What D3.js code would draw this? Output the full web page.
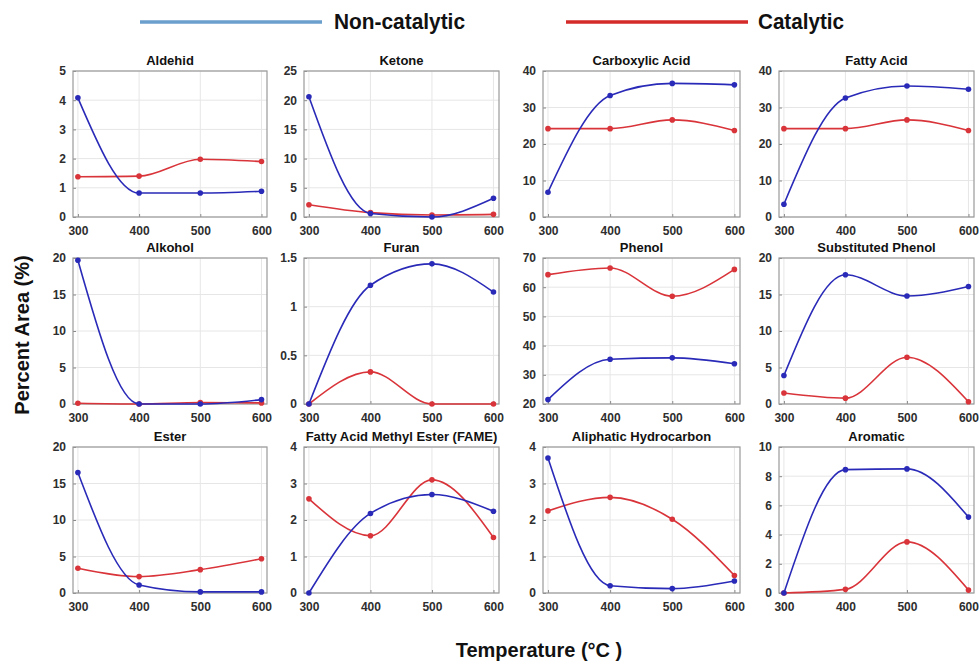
<!DOCTYPE html>
<html>
<head>
<meta charset="UTF-8" />
<title>Percent Area vs Temperature</title>
<script src="https://cdn.jsdelivr.net/npm/d3@7"></script>
<style>
  body { margin: 0; background: #fff; }
  svg { display: block; font-family: Arial, "Liberation Sans", sans-serif; }
</style>
</head>
<body>
<svg id="chart" width="979" height="662"></svg>
<script>
// temperatures (°C)
var temps = [300, 400, 500, 600]

var titles = ["Aldehid", "Ketone", "Carboxylic Acid", "Fatty Acid",
              "Alkohol", "Furan", "Phenol", "Substituted Phenol",
              "Ester", "Fatty Acid Methyl Ester (FAME)", "Aliphatic Hydrocarbon", "Aromatic"]

// non-catalytic (blue), per panel
var nonCatalytic = [
  [4.08, 0.82, 0.82, 0.88],
  [20.6, 0.6, 0.0, 3.2],
  [6.8, 33.3, 36.6, 36.2],
  [3.5, 32.6, 35.9, 35.0],
  [19.7, 0.0, 0.0, 0.6],
  [0.0, 1.22, 1.44, 1.15],
  [21.5, 35.3, 35.8, 33.8],
  [3.9, 17.7, 14.8, 16.1],
  [16.5, 1.1, 0.15, 0.15],
  [0.0, 2.18, 2.7, 2.24],
  [3.7, 0.2, 0.12, 0.33],
  [0.0, 8.45, 8.5, 5.2]
]

// catalytic (red), per panel
var catalytic = [
  [1.38, 1.40, 1.98, 1.90],
  [2.1, 0.75, 0.35, 0.45],
  [24.2, 24.2, 26.6, 23.7],
  [24.2, 24.2, 26.6, 23.7],
  [0.1, 0.0, 0.2, 0.15],
  [0.0, 0.33, 0.0, 0.0],
  [64.3, 66.6, 56.9, 66.1],
  [1.5, 0.8, 6.4, 0.3],
  [3.4, 2.25, 3.2, 4.7],
  [2.58, 1.57, 3.1, 1.52],
  [2.25, 2.62, 2.02, 0.48],
  [0.0, 0.25, 3.5, 0.2]
]

// y tick values per panel
var yTicks = [
  [0, 1, 2, 3, 4, 5],
  [0, 5, 10, 15, 20, 25],
  [0, 10, 20, 30, 40],
  [0, 10, 20, 30, 40],
  [0, 5, 10, 15, 20],
  [0, 0.5, 1, 1.5],
  [20, 30, 40, 50, 60, 70],
  [0, 5, 10, 15, 20],
  [0, 5, 10, 15, 20],
  [0, 1, 2, 3, 4],
  [0, 1, 2, 3, 4],
  [0, 2, 4, 6, 8, 10]
]

var legendLabels = ["Non-catalytic", "Catalytic"]

// layout
var colLeft = [73, 304, 543, 779]
var colWidth = [194, 195, 197, 195]
var rowTop = [71, 258, 447]
var boxH = 146

var blue = "#2a2ab8", red = "#d9343a"
var svg = d3.select("#chart")

// legend
var legendX = [[140, 322, 334], [566, 748, 758]]
var legendColor = ["#6b9fcc", "#d42a2a"]
legendLabels.forEach(function (lab, i) {
  svg.append("line")
    .attr("x1", legendX[i][0]).attr("x2", legendX[i][1])
    .attr("y1", 22).attr("y2", 22)
    .attr("stroke", legendColor[i]).attr("stroke-width", 3.5)
  svg.append("text")
    .attr("x", legendX[i][2]).attr("y", 29)
    .attr("font-size", 22).attr("font-weight", "bold")
    .attr("textLength", i == 0 ? 131 : 86).attr("lengthAdjust", "spacingAndGlyphs")
    .attr("fill", "#111")
    .text(lab)
})

titles.forEach(function (title, k) {
  var c = k % 4, r = Math.floor(k / 4)
  var x0 = colLeft[c], w = colWidth[c], y0 = rowTop[r]
  var yt = yTicks[k]

  var x = d3.scaleLinear().domain([292, 609]).range([x0, x0 + w])
  var y = d3.scaleLinear().domain([yt[0], yt[yt.length - 1]]).range([y0 + boxH, y0])

  var g = svg.append("g")

  // grid
  g.selectAll("line.vg").data(temps).enter().append("line")
    .attr("x1", d => x(d)).attr("x2", d => x(d))
    .attr("y1", y0).attr("y2", y0 + boxH)
    .attr("stroke", "#e6e6e6").attr("stroke-width", 1)
  g.selectAll("line.hg").data(yt).enter().append("line")
    .attr("x1", x0).attr("x2", x0 + w)
    .attr("y1", d => y(d)).attr("y2", d => y(d))
    .attr("stroke", "#e6e6e6").attr("stroke-width", 1)

  // axes (ticks inside)
  var xAxis = d3.axisBottom(x).tickValues(temps).tickSizeInner(-3).tickSizeOuter(0).tickPadding(9)
  var gx = g.append("g").attr("transform", "translate(0," + (y0 + boxH) + ")").call(xAxis)
  var yAxis = d3.axisLeft(y).tickValues(yt).tickSizeInner(-3).tickSizeOuter(0).tickPadding(7)
    .tickFormat(d3.format("~g"))
  var gy = g.append("g").attr("transform", "translate(" + x0 + ",0)").call(yAxis)
  ;[gx, gy].forEach(function (a) {
    a.select(".domain").remove()
    a.selectAll(".tick line").attr("stroke", "#8a8a8a")
    a.selectAll(".tick text").attr("font-size", 12).attr("font-weight", "bold")
      .attr("fill", "#2e2e2e").attr("font-family", "Arial, 'Liberation Sans', sans-serif")
  })

  // box
  g.append("rect")
    .attr("x", x0).attr("y", y0).attr("width", w).attr("height", boxH)
    .attr("fill", "none").attr("stroke", "#9a9a9a").attr("stroke-width", 1.2)

  // title
  g.append("text")
    .attr("x", x0 + w / 2).attr("y", y0 - 6)
    .attr("text-anchor", "middle").attr("font-size", 13).attr("font-weight", "bold")
    .attr("fill", "#111").text(title)

  var line = d3.line().x((d, i) => x(temps[i])).y(d => y(d)).curve(d3.curveMonotoneX)

  ;[[catalytic[k], red], [nonCatalytic[k], blue]].forEach(function (s) {
    g.append("path").attr("d", line(s[0]))
      .attr("fill", "none").attr("stroke", s[1]).attr("stroke-width", 1.6)
    g.selectAll(null).data(s[0]).enter().append("circle")
      .attr("cx", (d, i) => x(temps[i])).attr("cy", d => y(d))
      .attr("r", 2.8).attr("fill", s[1])
  })
})

// axis titles
svg.append("text")
  .attr("transform", "translate(29,335) rotate(-90)")
  .attr("text-anchor", "middle").attr("font-size", 20).attr("font-weight", "bold")
  .attr("fill", "#111").text("Percent Area (%)")
svg.append("text")
  .attr("x", 539).attr("y", 657)
  .attr("text-anchor", "middle").attr("font-size", 20).attr("font-weight", "bold")
  .attr("fill", "#111").text("Temperature (°C )")
</script>
</body>
</html>
